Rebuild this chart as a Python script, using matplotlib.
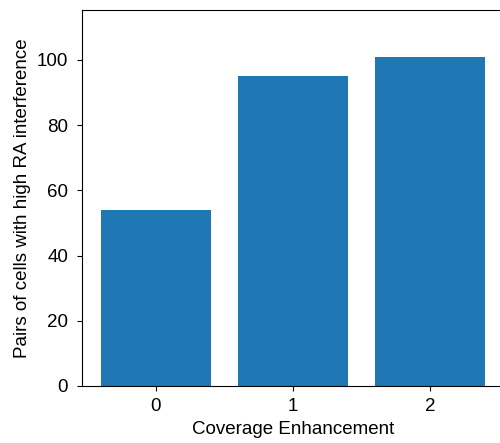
import matplotlib
matplotlib.use('Agg')
import matplotlib.pyplot as plt

plt.rcParams['font.family'] = ['Liberation Sans', 'DejaVu Sans']

# data
levels = [0, 1, 2]
pairs = [54, 95, 101]

fig = plt.figure(figsize=(5, 4.43), dpi=100)
ax = fig.add_axes([0.164, 0.1287, 0.844, 0.8487])
ax.bar(levels, pairs, width=0.8, color='#1f77b4')
ax.set_xlim(-0.54, 2.54)
ax.set_ylim(0, 115.3)
ax.set_xticks(levels)
ax.tick_params(labelsize=13.5)
ax.tick_params(axis='y', pad=6.5)
ax.tick_params(axis='x', pad=5.5)
ax.set_xlabel('Coverage Enhancement', fontsize=13.5)
ax.set_ylabel('Pairs of cells with high RA interference', fontsize=13.5)
fig.savefig('out.png', dpi=100)
